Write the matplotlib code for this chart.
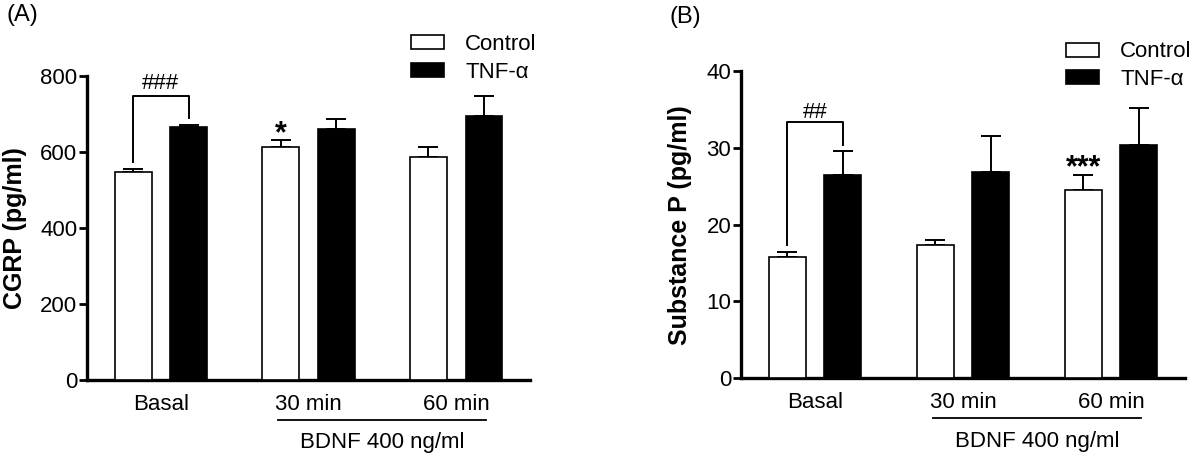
import matplotlib.pyplot as plt
from matplotlib.patches import Patch

plt.rcParams['font.family'] = ['Liberation Sans', 'DejaVu Sans']

groups = ["Basal", "30 min", "60 min"]

# (A) CGRP, pg/ml
cgrp_control = [548, 614, 588]
cgrp_control_err = [7, 18, 26]
cgrp_tnf = [667, 660, 696]
cgrp_tnf_err = [4, 26, 51]

# (B) Substance P, pg/ml
sp_control = [15.8, 17.4, 24.5]
sp_control_err = [0.6, 0.6, 2.0]
sp_tnf = [26.5, 26.8, 30.4]
sp_tnf_err = [3.1, 4.7, 4.8]

FS = 16
W = 0.25
OFF = 0.188


def draw_panel(ax, ctrl, ctrl_err, tnf, tnf_err, ymax, ylabel, leg_y):
    x = list(range(len(groups)))
    xc = [i - OFF for i in x]
    xt = [i + OFF for i in x]

    ax.bar(xc, ctrl, W, color="white", edgecolor="black", linewidth=1.2, zorder=3)
    ax.bar(xt, tnf, W, color="black", edgecolor="black", linewidth=1.2, zorder=3)
    ax.errorbar(xc, ctrl, yerr=[[0] * 3, ctrl_err], fmt="none", ecolor="black",
                elinewidth=1.4, capsize=7, capthick=1.4, zorder=2)
    ax.errorbar(xt, tnf, yerr=[[0] * 3, tnf_err], fmt="none", ecolor="black",
                elinewidth=1.4, capsize=7, capthick=1.4, zorder=2)

    ax.set_xlim(-0.5, 2.5)
    ax.set_ylim(0, ymax)
    ax.set_xticks(x)
    ax.set_xticklabels(groups, fontsize=FS)
    ax.tick_params(axis="x", length=0, pad=10)
    ax.tick_params(axis="y", length=6, width=2, labelsize=FS, pad=1)
    for s in ["top", "right"]:
        ax.spines[s].set_visible(False)
    for s in ["left", "bottom"]:
        ax.spines[s].set_linewidth(2.4)
    ax.set_ylabel(ylabel, fontsize=18, fontweight="bold")

    # BDNF underline and label
    ax.plot([0.795, 2.205], [-0.13, -0.13], color="black", lw=1.3,
            transform=ax.get_xaxis_transform(), clip_on=False)
    ax.text(1.5, -0.207, "BDNF 400 ng/ml", ha="center", va="center", fontsize=FS,
            transform=ax.get_xaxis_transform())

    handles = [Patch(facecolor="white", edgecolor="black", linewidth=1.2),
               Patch(facecolor="black", edgecolor="black", linewidth=1.2)]
    ax.legend(handles, ["Control", "TNF-\u03b1"], loc="upper left",
              bbox_to_anchor=(0.731, leg_y), frameon=False, fontsize=FS,
              handlelength=1.5, handleheight=0.6, handletextpad=0.95,
              labelspacing=0.3, borderpad=0, borderaxespad=0)
    return xc, xt


fig = plt.figure(figsize=(12, 4.61), dpi=100)
ax1 = fig.add_axes([0.0725, 0.1757, 0.3692, 0.6594])
ax2 = fig.add_axes([0.6175, 0.1794, 0.37, 0.6666])

xc, xt = draw_panel(ax1, cgrp_control, cgrp_control_err, cgrp_tnf, cgrp_tnf_err,
                    800, "CGRP (pg/ml)", 1.138)
ax1.set_yticks([0, 200, 400, 600, 800])
ax1.yaxis.set_label_coords(-0.135, 0.5)
ax1.plot([xc[0], xc[0], xt[0], xt[0]], [573, 747, 747, 689], color="black",
         lw=1.4, clip_on=False)
ax1.text(0, 780, "###", ha="center", va="center", fontsize=16)
ax1.text(xc[1], cgrp_control[1] + cgrp_control_err[1] - 24, "*", ha="center",
         va="bottom", fontsize=22, fontweight="bold")
fig.text(0.005, 0.967, "(A)", ha="left", va="center", fontsize=17)

xc, xt = draw_panel(ax2, sp_control, sp_control_err, sp_tnf, sp_tnf_err,
                    40, "Substance P (pg/ml)", 1.096)
ax2.set_yticks([0, 10, 20, 30, 40])
ax2.yaxis.set_label_coords(-0.11, 0.5)
ax2.plot([xc[0], xc[0], xt[0], xt[0]], [17.4, 33.4, 33.4, 30.4], color="black",
         lw=1.4, clip_on=False)
ax2.text(0, 34.6, "##", ha="center", va="center", fontsize=16)
ax2.text(xc[2], sp_control[2] + sp_control_err[2] - 1.1, "***", ha="center",
         va="bottom", fontsize=22, fontweight="bold")
fig.text(0.558, 0.964, "(B)", ha="left", va="center", fontsize=17)

fig.savefig("out.png", dpi=100)
